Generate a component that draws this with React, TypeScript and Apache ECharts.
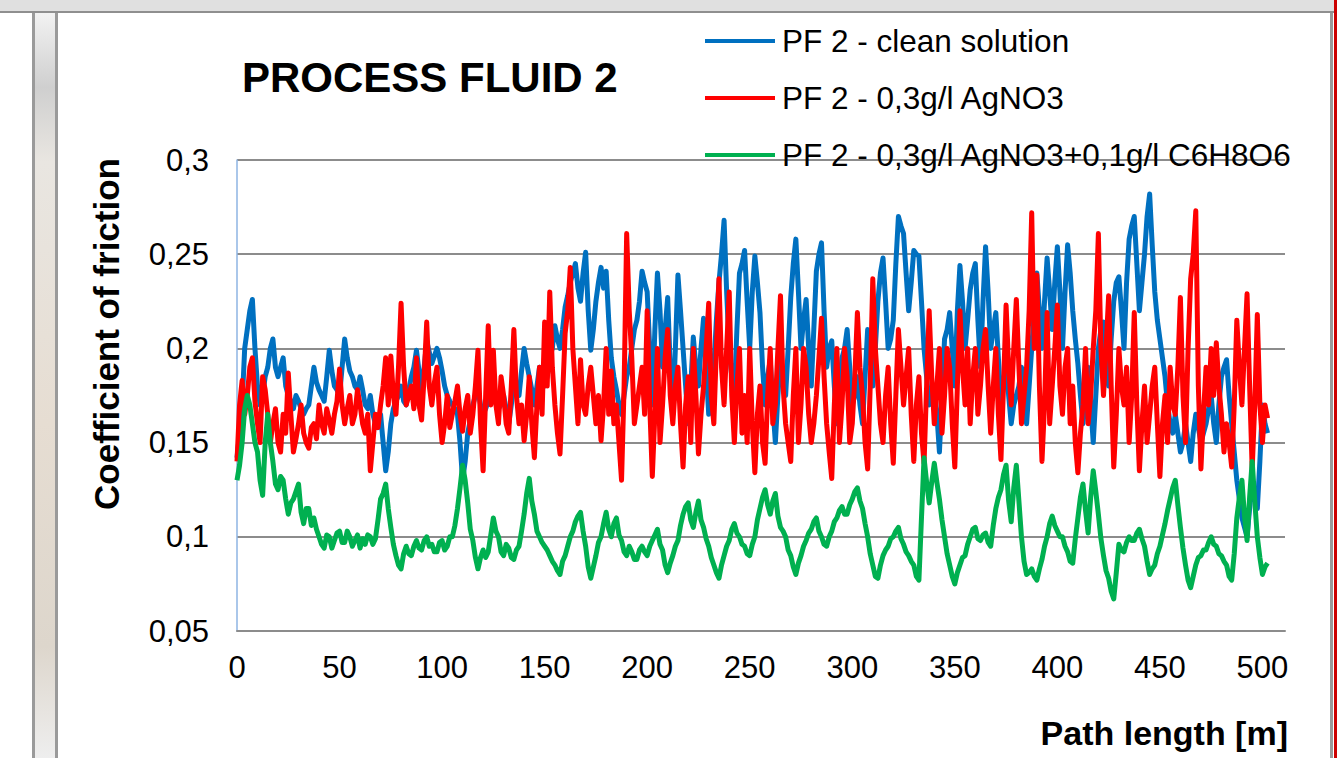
import React, { useEffect, useRef } from "react";
import * as echarts from "echarts";

// Path length sampling step [m]: values below are read every 1.25 m from 0 to 502.5 m
const STEP = 1.25;

// Coefficient of friction, PF 2 - clean solution
const cleanSolution = [
  0.142, 0.155, 0.17, 0.2, 0.21, 0.22, 0.226, 0.2, 0.18, 0.17, 0.175, 0.185, 0.19, 0.2, 0.205, 0.19, 0.185, 0.19, 0.195, 0.18,
  0.175, 0.172, 0.168, 0.175, 0.172, 0.168, 0.165, 0.168, 0.17, 0.18, 0.19, 0.182, 0.178, 0.175, 0.172, 0.185, 0.199, 0.188, 0.18, 0.178,
  0.175, 0.19, 0.205, 0.195, 0.188, 0.185, 0.18, 0.178, 0.185, 0.178, 0.17, 0.168, 0.175, 0.165, 0.16, 0.158, 0.165, 0.15, 0.135, 0.145,
  0.16, 0.168, 0.172, 0.175, 0.18, 0.172, 0.17, 0.178, 0.185, 0.19, 0.199, 0.188, 0.178, 0.19, 0.204, 0.198, 0.192, 0.196, 0.2, 0.195,
  0.188, 0.18, 0.175, 0.172, 0.17, 0.168, 0.165, 0.15, 0.13, 0.14, 0.155, 0.162, 0.17, 0.175, 0.178, 0.17, 0.165, 0.168, 0.172, 0.176,
  0.18, 0.172, 0.168, 0.17, 0.175, 0.168, 0.16, 0.17, 0.182, 0.178, 0.175, 0.188, 0.2, 0.192, 0.185, 0.178, 0.17, 0.18, 0.19, 0.185,
  0.18, 0.185, 0.195, 0.2, 0.212, 0.205, 0.2, 0.21, 0.222, 0.228, 0.235, 0.24, 0.245, 0.232, 0.225, 0.24, 0.251, 0.22, 0.199, 0.21,
  0.225, 0.235, 0.243, 0.232, 0.241, 0.215, 0.195, 0.185, 0.178, 0.17, 0.165, 0.175, 0.185, 0.19, 0.2, 0.21, 0.215, 0.225, 0.241, 0.235,
  0.23, 0.2, 0.17, 0.21, 0.24, 0.22, 0.19, 0.21, 0.227, 0.19, 0.165, 0.2, 0.239, 0.22, 0.2, 0.18, 0.16, 0.18, 0.206, 0.19,
  0.18, 0.2, 0.216, 0.19, 0.165, 0.175, 0.19, 0.215, 0.235, 0.25, 0.268, 0.23, 0.2, 0.185, 0.175, 0.21, 0.24, 0.245, 0.252, 0.225,
  0.2, 0.23, 0.249, 0.235, 0.219, 0.19, 0.17, 0.185, 0.194, 0.17, 0.15, 0.175, 0.197, 0.185, 0.175, 0.2, 0.227, 0.245, 0.258, 0.23,
  0.2, 0.215, 0.226, 0.2, 0.18, 0.21, 0.241, 0.25, 0.256, 0.22, 0.19, 0.2, 0.204, 0.18, 0.16, 0.18, 0.195, 0.2, 0.21, 0.19,
  0.17, 0.175, 0.185, 0.17, 0.16, 0.185, 0.21, 0.195, 0.18, 0.2, 0.225, 0.24, 0.248, 0.225, 0.2, 0.205, 0.215, 0.245, 0.27, 0.265,
  0.261, 0.24, 0.22, 0.235, 0.252, 0.25, 0.249, 0.225, 0.2, 0.185, 0.17, 0.175, 0.18, 0.165, 0.145, 0.175, 0.205, 0.21, 0.219, 0.2,
  0.18, 0.22, 0.244, 0.225, 0.2, 0.215, 0.231, 0.24, 0.245, 0.215, 0.19, 0.225, 0.254, 0.23, 0.2, 0.21, 0.219, 0.195, 0.17, 0.18,
  0.195, 0.175, 0.16, 0.17, 0.175, 0.18, 0.19, 0.175, 0.16, 0.18, 0.2, 0.22, 0.24, 0.22, 0.2, 0.225, 0.248, 0.23, 0.21, 0.235,
  0.254, 0.23, 0.2, 0.23, 0.255, 0.24, 0.22, 0.205, 0.192, 0.175, 0.16, 0.175, 0.19, 0.17, 0.15, 0.175, 0.2, 0.21, 0.214, 0.195,
  0.18, 0.205, 0.225, 0.235, 0.238, 0.22, 0.2, 0.235, 0.258, 0.265, 0.27, 0.245, 0.22, 0.235, 0.25, 0.27, 0.282, 0.255, 0.23, 0.215,
  0.205, 0.195, 0.185, 0.17, 0.16, 0.155, 0.165, 0.155, 0.145, 0.15, 0.16, 0.15, 0.14, 0.155, 0.165, 0.158, 0.15, 0.155, 0.16, 0.168,
  0.175, 0.16, 0.15, 0.17, 0.185, 0.19, 0.194, 0.175, 0.16, 0.145, 0.13, 0.12, 0.11, 0.105, 0.1, 0.115, 0.13, 0.12, 0.115, 0.14,
  0.17, 0.16, 0.155,
];

// Coefficient of friction, PF 2 - 0,3g/l AgNO3
const agno3 = [
  0.14, 0.17, 0.183, 0.165, 0.175, 0.19, 0.195, 0.172, 0.16, 0.15, 0.185, 0.178, 0.165, 0.15, 0.16, 0.168, 0.15, 0.145, 0.165, 0.155,
  0.187, 0.165, 0.145, 0.152, 0.16, 0.17, 0.155, 0.15, 0.147, 0.158, 0.16, 0.152, 0.17, 0.16, 0.155, 0.168, 0.162, 0.155, 0.165, 0.172,
  0.189, 0.17, 0.16, 0.168, 0.175, 0.16, 0.165, 0.178, 0.17, 0.16, 0.155, 0.165, 0.135, 0.15, 0.165, 0.158, 0.17, 0.18, 0.195, 0.17,
  0.196, 0.175, 0.165, 0.19, 0.224, 0.19, 0.17, 0.175, 0.18, 0.168, 0.195, 0.17, 0.162, 0.185, 0.214, 0.18, 0.17, 0.182, 0.19, 0.165,
  0.15, 0.16, 0.175, 0.158, 0.165, 0.172, 0.18, 0.165, 0.156, 0.168, 0.175, 0.155, 0.165, 0.18, 0.199, 0.16, 0.135, 0.175, 0.212, 0.17,
  0.199, 0.17, 0.16, 0.185, 0.175, 0.16, 0.155, 0.18, 0.21, 0.175, 0.16, 0.17, 0.151, 0.165, 0.185, 0.16, 0.142, 0.17, 0.19, 0.165,
  0.214, 0.18, 0.23, 0.19, 0.17, 0.155, 0.144, 0.175, 0.208, 0.22, 0.243, 0.2, 0.18, 0.16, 0.194, 0.17, 0.165, 0.18, 0.19, 0.175,
  0.16, 0.175, 0.151, 0.17, 0.2, 0.165, 0.188, 0.16, 0.17, 0.15, 0.13, 0.18, 0.261, 0.22, 0.195, 0.16, 0.17, 0.18, 0.19, 0.165,
  0.22, 0.17, 0.132, 0.165, 0.2, 0.15, 0.17, 0.195, 0.21, 0.175, 0.16, 0.18, 0.19, 0.16, 0.137, 0.17, 0.185, 0.15, 0.2, 0.175,
  0.144, 0.165, 0.18, 0.2, 0.224, 0.175, 0.16, 0.2, 0.237, 0.19, 0.17, 0.2, 0.23, 0.175, 0.15, 0.18, 0.2, 0.155, 0.175, 0.15,
  0.2, 0.16, 0.134, 0.165, 0.18, 0.15, 0.139, 0.175, 0.2, 0.16, 0.17, 0.2, 0.228, 0.18, 0.16, 0.15, 0.14, 0.175, 0.2, 0.15,
  0.17, 0.2, 0.19, 0.165, 0.15, 0.16, 0.175, 0.195, 0.216, 0.185, 0.16, 0.145, 0.131, 0.17, 0.2, 0.15, 0.17, 0.2, 0.185, 0.15,
  0.16, 0.185, 0.219, 0.19, 0.175, 0.15, 0.136, 0.18, 0.237, 0.2, 0.18, 0.16, 0.15, 0.175, 0.19, 0.16, 0.139, 0.175, 0.21, 0.19,
  0.17, 0.185, 0.2, 0.165, 0.14, 0.17, 0.185, 0.155, 0.139, 0.18, 0.22, 0.185, 0.16, 0.18, 0.2, 0.155, 0.175, 0.2, 0.19, 0.16,
  0.137, 0.18, 0.22, 0.19, 0.17, 0.2, 0.16, 0.185, 0.2, 0.165, 0.18, 0.2, 0.21, 0.18, 0.155, 0.18, 0.2, 0.165, 0.141, 0.18,
  0.223, 0.19, 0.17, 0.2, 0.226, 0.19, 0.16, 0.175, 0.19, 0.22, 0.272, 0.2, 0.239, 0.18, 0.14, 0.17, 0.219, 0.16, 0.18, 0.2,
  0.223, 0.18, 0.165, 0.19, 0.2, 0.16, 0.18, 0.15, 0.134, 0.155, 0.17, 0.2, 0.16, 0.175, 0.2, 0.22, 0.261, 0.2, 0.175, 0.2,
  0.228, 0.18, 0.137, 0.165, 0.2, 0.18, 0.17, 0.19, 0.15, 0.175, 0.219, 0.17, 0.135, 0.16, 0.18, 0.15, 0.165, 0.18, 0.19, 0.16,
  0.132, 0.16, 0.175, 0.15, 0.19, 0.17, 0.165, 0.19, 0.227, 0.175, 0.15, 0.2, 0.237, 0.25, 0.273, 0.18, 0.136, 0.165, 0.19, 0.17,
  0.2, 0.175, 0.203, 0.18, 0.165, 0.145, 0.16, 0.15, 0.137, 0.17, 0.215, 0.19, 0.17, 0.2, 0.229, 0.18, 0.136, 0.17, 0.218, 0.17,
  0.15, 0.17, 0.163,
];

// Coefficient of friction, PF 2 - 0,3g/l AgNO3+0,1g/l C6H8O6
const agno3Ascorbic = [
  0.13, 0.138, 0.15, 0.168, 0.175, 0.17, 0.16, 0.15, 0.145, 0.13, 0.122, 0.15, 0.165, 0.15, 0.14, 0.128, 0.125, 0.132, 0.13, 0.12,
  0.112, 0.118, 0.12, 0.124, 0.128, 0.113, 0.107, 0.115, 0.115, 0.106, 0.11, 0.104, 0.1, 0.096, 0.094, 0.101, 0.1, 0.094, 0.098, 0.102,
  0.103, 0.097, 0.097, 0.103, 0.1, 0.095, 0.098, 0.101, 0.094, 0.099, 0.096, 0.101, 0.1, 0.096, 0.099, 0.109, 0.12, 0.123, 0.128, 0.115,
  0.105, 0.096, 0.09, 0.085, 0.083, 0.091, 0.095, 0.091, 0.09, 0.095, 0.098, 0.094, 0.093, 0.098, 0.1, 0.095, 0.096, 0.092, 0.092, 0.097,
  0.098, 0.093, 0.095, 0.1, 0.1, 0.106, 0.115, 0.126, 0.138, 0.13, 0.118, 0.104, 0.098, 0.089, 0.083, 0.089, 0.093, 0.089, 0.092, 0.101,
  0.11, 0.103, 0.1, 0.092, 0.09, 0.096, 0.094, 0.089, 0.088, 0.093, 0.095, 0.103, 0.112, 0.123, 0.131, 0.119, 0.112, 0.103, 0.1, 0.097,
  0.095, 0.093, 0.09, 0.087, 0.085, 0.082, 0.08, 0.087, 0.09, 0.095, 0.1, 0.103, 0.108, 0.111, 0.113, 0.103, 0.095, 0.084, 0.078, 0.084,
  0.09, 0.097, 0.1, 0.107, 0.113, 0.104, 0.1, 0.107, 0.11, 0.101, 0.098, 0.092, 0.09, 0.095, 0.092, 0.088, 0.088, 0.093, 0.095, 0.092,
  0.09, 0.095, 0.098, 0.101, 0.104, 0.096, 0.093, 0.085, 0.081, 0.086, 0.09, 0.095, 0.098, 0.106, 0.112, 0.116, 0.118, 0.109, 0.105, 0.113,
  0.119, 0.109, 0.105, 0.099, 0.095, 0.089, 0.085, 0.081, 0.078, 0.085, 0.09, 0.095, 0.098, 0.104, 0.107, 0.102, 0.1, 0.096, 0.095, 0.091,
  0.09, 0.096, 0.1, 0.109, 0.115, 0.121, 0.125, 0.117, 0.112, 0.119, 0.123, 0.111, 0.105, 0.103, 0.1, 0.093, 0.09, 0.084, 0.08, 0.086,
  0.09, 0.095, 0.098, 0.102, 0.104, 0.108, 0.11, 0.103, 0.1, 0.096, 0.095, 0.1, 0.103, 0.108, 0.11, 0.114, 0.116, 0.112, 0.112, 0.117,
  0.12, 0.124, 0.126, 0.119, 0.115, 0.107, 0.1, 0.091, 0.085, 0.079, 0.078, 0.085, 0.09, 0.093, 0.095, 0.099, 0.1, 0.103, 0.105, 0.099,
  0.096, 0.092, 0.09, 0.087, 0.085, 0.079, 0.077, 0.11, 0.142, 0.129, 0.118, 0.129, 0.139, 0.129, 0.12, 0.109, 0.1, 0.091, 0.085, 0.079,
  0.075, 0.081, 0.085, 0.089, 0.09, 0.096, 0.1, 0.104, 0.105, 0.099, 0.098, 0.101, 0.102, 0.097, 0.095, 0.106, 0.115, 0.121, 0.125, 0.133,
  0.138, 0.119, 0.108, 0.126, 0.138, 0.119, 0.1, 0.087, 0.08, 0.081, 0.083, 0.079, 0.077, 0.083, 0.088, 0.095, 0.1, 0.107, 0.111, 0.106,
  0.103, 0.1, 0.1, 0.095, 0.092, 0.087, 0.086, 0.099, 0.11, 0.121, 0.128, 0.114, 0.102, 0.121, 0.135, 0.124, 0.112, 0.099, 0.09, 0.082,
  0.078, 0.071, 0.067, 0.081, 0.096, 0.093, 0.092, 0.097, 0.1, 0.098, 0.098, 0.102, 0.104, 0.099, 0.095, 0.087, 0.08, 0.083, 0.085, 0.091,
  0.095, 0.101, 0.107, 0.114, 0.12, 0.126, 0.13, 0.117, 0.105, 0.094, 0.085, 0.077, 0.073, 0.079, 0.085, 0.089, 0.09, 0.093, 0.093, 0.097,
  0.1, 0.096, 0.095, 0.091, 0.09, 0.087, 0.085, 0.079, 0.077, 0.091, 0.11, 0.121, 0.13, 0.111, 0.098, 0.121, 0.14, 0.119, 0.1, 0.089,
  0.08, 0.084, 0.086,
];

const seriesNames = [
  "PF 2 - clean solution",
  "PF 2 - 0,3g/l AgNO3",
  "PF 2 - 0,3g/l AgNO3+0,1g/l C6H8O6",
];
const seriesColors = ["#0070C0", "#FF0000", "#00B050"];
const yTicks = [0.05, 0.1, 0.15, 0.2, 0.25, 0.3];
const xTicks = [0, 50, 100, 150, 200, 250, 300, 350, 400, 450, 500];

const FONT = "'Liberation Sans', Arial, sans-serif";

function toPairs(values: number[]) {
  return values.map((v, i) => [i * STEP, v]);
}

export default function App() {
  const ref = useRef<HTMLDivElement>(null);

  useEffect(() => {
    if (!ref.current) return;
    const chart = echarts.init(ref.current, undefined, { renderer: "svg" });
    const allSeries = [cleanSolution, agno3, agno3Ascorbic].map(toPairs);

    chart.setOption({
      animation: false,
      backgroundColor: "#ffffff",
      grid: { left: 237, right: 52, top: 160, bottom: 127, containLabel: false },
      legend: {
        orient: "vertical",
        left: 705,
        top: 25,
        padding: 0,
        itemWidth: 70,
        itemHeight: 4,
        itemGap: 25,
        icon: "rect",
        selectedMode: false,
        data: seriesNames,
        textStyle: {
          fontFamily: FONT,
          fontSize: 31.5,
          lineHeight: 30,
          color: "#000000",
          padding: [0, 0, 0, 2],
        },
      },
      xAxis: {
        type: "value",
        min: 0,
        max: 511,
        interval: 50,
        axisLine: { show: true, lineStyle: { color: "#8c8c8c", width: 2 } },
        axisTick: { show: false },
        splitLine: { show: false },
        axisLabel: {
          margin: 21,
          fontFamily: FONT,
          fontSize: 31,
          color: "#000000",
          showMaxLabel: false,
          formatter: (v: number) =>
            xTicks.indexOf(Math.round(v)) >= 0 && Math.abs(v - Math.round(v)) < 1e-6 ? String(Math.round(v)) : "",
        },
      },
      yAxis: {
        type: "value",
        min: 0.05,
        max: 0.3,
        interval: 0.05,
        axisLine: { show: true, lineStyle: { color: "#8EB4E3", width: 1.5 } },
        axisTick: { show: false },
        splitLine: { show: true, lineStyle: { color: "#8c8c8c", width: 2 } },
        axisLabel: {
          margin: 28,
          fontFamily: FONT,
          fontSize: 31,
          color: "#000000",
          formatter: (v: number) => {
            const t = yTicks.find((k) => Math.abs(k - v) < 1e-6);
            return t === undefined ? "" : String(t).replace(".", ",");
          },
        },
      },
      series: allSeries.map((data, i) => ({
        name: seriesNames[i],
        type: "line",
        data,
        showSymbol: false,
        symbol: "none",
        color: seriesColors[i],
        lineStyle: { color: seriesColors[i], width: 5, join: "round" },
        z: 2 + i,
      })),
      graphic: [
        // frame of the screenshot
        { type: "rect", z: 0, shape: { x: 0, y: 0, width: 1337, height: 11 }, style: { fill: "#e0e0e0" } },
        { type: "rect", z: 0, shape: { x: 0, y: 11, width: 1337, height: 2 }, style: { fill: "#8f8f8f" } },
        {
          type: "rect",
          z: 0,
          shape: { x: 33, y: 13, width: 24, height: 745 },
          style: {
            fill: new echarts.graphic.LinearGradient(0, 0, 0, 1, [
              { offset: 0, color: "#f2f2f2" },
              { offset: 0.1, color: "#cfcfcf" },
              { offset: 0.2, color: "#e9e6e1" },
              { offset: 0.55, color: "#e6ddd2" },
              { offset: 0.85, color: "#ddd6cc" },
              { offset: 1, color: "#eeeeee" },
            ]),
          },
        },
        { type: "rect", z: 0, shape: { x: 32, y: 13, width: 3, height: 745 }, style: { fill: "#9a9a9a" } },
        { type: "rect", z: 0, shape: { x: 55, y: 13, width: 3, height: 745 }, style: { fill: "#9a9a9a" } },
        { type: "rect", z: 0, shape: { x: 1330, y: 13, width: 3, height: 745 }, style: { fill: "#9a9a9a" } },
        { type: "rect", z: 0, shape: { x: 1334, y: 0, width: 3, height: 758 }, style: { fill: "#cc0000" } },
        // chart title
        {
          type: "text",
          z: 10,
          x: 242,
          y: 77,
          style: {
            text: "PROCESS FLUID 2",
            font: `bold 42px ${FONT}`,
            fill: "#000000",
            textAlign: "left",
            textVerticalAlign: "middle",
          },
        },
        // y axis title
        {
          type: "text",
          z: 10,
          x: 106,
          y: 334,
          rotation: Math.PI / 2,
          style: {
            text: "Coefficient of friction",
            font: `bold 35px ${FONT}`,
            fill: "#000000",
            textAlign: "center",
            textVerticalAlign: "middle",
          },
        },
        // x axis title
        {
          type: "text",
          z: 10,
          x: 1288,
          y: 733,
          style: {
            text: "Path length [m]",
            font: `bold 34px ${FONT}`,
            fill: "#000000",
            textAlign: "right",
            textVerticalAlign: "middle",
          },
        },
      ],
    });

    return () => chart.dispose();
  }, []);

  return (
    <div
      ref={ref}
      style={{ position: "absolute", left: 0, top: 0, width: 1337, height: 758 }}
    />
  );
}
